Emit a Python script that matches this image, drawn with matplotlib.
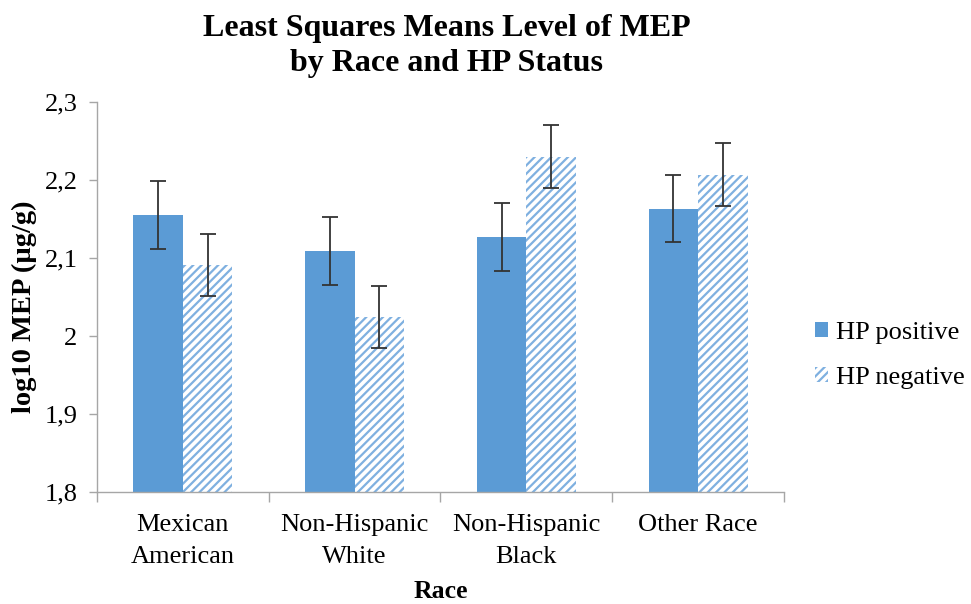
import numpy as np
import matplotlib.pyplot as plt
from matplotlib.ticker import FixedLocator

plt.rcParams["font.family"] = ["Liberation Serif", "DejaVu Serif"]
plt.rcParams["hatch.linewidth"] = 1.6

# values
races = ["Mexican\nAmerican", "Non-Hispanic\nWhite", "Non-Hispanic\nBlack", "Other Race"]
hp_positive = [2.155, 2.109, 2.127, 2.163]
hp_positive_err = [0.044, 0.043, 0.044, 0.043]
hp_negative = [2.091, 2.024, 2.230, 2.207]
hp_negative_err = [0.040, 0.040, 0.040, 0.040]
y_ticks = [1.8, 1.9, 2.0, 2.1, 2.2, 2.3]
y_tick_labels = ["1,8", "1,9", "2", "2,1", "2,2", "2,3"]

blue = "#5B9BD5"
hatch_blue = "#7FB0E0"
grey = "#A6A6A6"

fig = plt.figure(figsize=(9.71, 6.04), dpi=100)
ax = fig.add_axes([0.0999, 0.1854, 0.7075, 0.6457])

x = np.arange(len(races))
width = 0.288

ax.bar(x - width / 2, hp_positive, width, color=blue, label="HP positive", zorder=2)
ax.bar(x + width / 2, hp_negative, width, facecolor="white", edgecolor=hatch_blue,
       linewidth=0, hatch="////", label="HP negative", zorder=2)

err_style = dict(fmt="none", ecolor="#333333", elinewidth=1.3, capsize=6, capthick=1.3, zorder=3)
ax.errorbar(x - width / 2, hp_positive, yerr=hp_positive_err, **err_style)
ax.errorbar(x + width / 2, hp_negative, yerr=hp_negative_err, **err_style)

ax.set_xlim(-0.5, len(races) - 0.5)
ax.set_ylim(1.8, 2.3)
ax.set_yticks(y_ticks)
ax.set_yticklabels(y_tick_labels, fontsize=19)
ax.set_xticks(x)
ax.set_xticklabels(races, fontsize=19, linespacing=1.55)
ax.xaxis.set_minor_locator(FixedLocator(np.arange(len(races) + 1) - 0.5))
ax.tick_params(axis="x", which="major", length=0, pad=16)
ax.tick_params(axis="x", which="minor", length=7, color=grey, width=1)
ax.tick_params(axis="y", length=6, color=grey, width=1, pad=8)

for side in ["top", "right"]:
    ax.spines[side].set_visible(False)
for side in ["left", "bottom"]:
    ax.spines[side].set_color(grey)
    ax.spines[side].set_linewidth(1)

ax.set_xlabel("Race", fontsize=18.5, fontweight="bold", labelpad=9)
ax.set_ylabel("log10 MEP (µg/g)", fontsize=20.5, fontweight="bold")
ax.yaxis.set_label_coords(-0.088, 0.475)

fig.suptitle("Least Squares Means Level of MEP\nby Race and HP Status", x=0.46, y=0.977,
             fontsize=23, fontweight="bold", linespacing=1.28)

ax.legend(loc="center left", bbox_to_anchor=(1.01, 0.35), frameon=False, fontsize=19,
          handlelength=0.5, handleheight=0.5, handletextpad=0.3, labelspacing=0.85)

fig.savefig("out.png", dpi=100)
